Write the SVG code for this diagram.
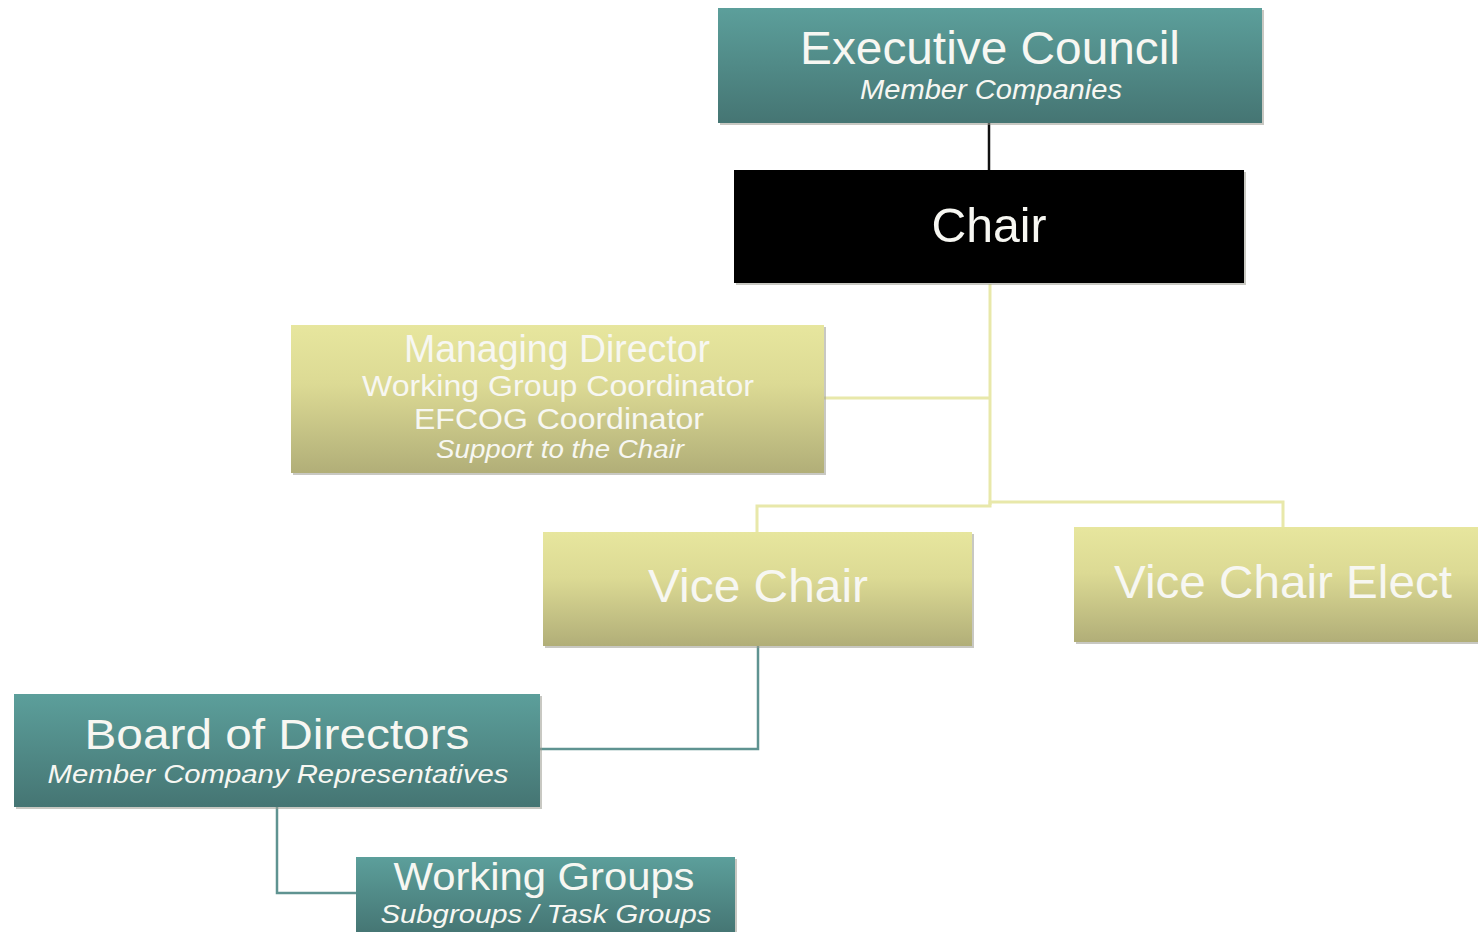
<svg xmlns="http://www.w3.org/2000/svg" width="1478" height="932" viewBox="0 0 1478 932">
<defs>
<linearGradient id="teal" x1="0" y1="0" x2="0" y2="1">
<stop offset="0" stop-color="#5c9f9b"/>
<stop offset="1" stop-color="#457573"/>
</linearGradient>
<linearGradient id="yel" x1="0" y1="0" x2="0" y2="1">
<stop offset="0" stop-color="#e7e69e"/>
<stop offset="0.4" stop-color="#dcda94"/>
<stop offset="1" stop-color="#b1ae78"/>
</linearGradient>
<style>
text{font-family:"Liberation Sans",Arial,sans-serif;fill:#f7f7f2;text-anchor:middle}
.it{font-style:italic}
.shadow{fill:#9a9a90;opacity:0.55}
.yc{stroke:#e8e8aa;stroke-width:3;fill:none}
.tc{stroke:#5f9391;stroke-width:2.5;fill:none}
</style>
</defs>
<g id="connectors">
<line x1="989" y1="123" x2="989" y2="170" stroke="#111" stroke-width="2.5"/>
<polyline class="yc" points="990,284 990,505"/>
<polyline class="yc" points="824,398 990,398"/>
<polyline class="yc" points="757,533 757,506 990,506 990,502 1283,502 1283,528"/>
<polyline class="tc" points="758,646 758,749 540,749"/>
<polyline class="tc" points="277,807 277,893 356,893"/>
</g>
<g id="executive-council">
<rect class="shadow" x="720" y="10" width="544" height="115"/>
<rect x="718" y="8" width="544" height="115" fill="url(#teal)"/>
<text x="990" y="64" font-size="47" textLength="380" lengthAdjust="spacingAndGlyphs">Executive Council</text>
<text class="it" x="991" y="99" font-size="27" textLength="262" lengthAdjust="spacingAndGlyphs">Member Companies</text>
</g>
<g id="chair">
<rect class="shadow" x="736" y="172" width="510" height="113"/>
<rect x="734" y="170" width="510" height="113" fill="#000"/>
<text x="989" y="242" font-size="48" textLength="115" lengthAdjust="spacingAndGlyphs">Chair</text>
</g>
<g id="managing-director">
<rect class="shadow" x="293" y="327" width="533" height="148"/>
<rect x="291" y="325" width="533" height="148" fill="url(#yel)"/>
<text x="557" y="362" font-size="38" textLength="306" lengthAdjust="spacingAndGlyphs">Managing Director</text>
<text x="558" y="396" font-size="29" textLength="392" lengthAdjust="spacingAndGlyphs">Working Group Coordinator</text>
<text x="559" y="429" font-size="29" textLength="290" lengthAdjust="spacingAndGlyphs">EFCOG Coordinator</text>
<text class="it" x="560" y="458" font-size="26" textLength="248" lengthAdjust="spacingAndGlyphs">Support to the Chair</text>
</g>
<g id="vice-chair">
<rect class="shadow" x="545" y="534" width="429" height="114"/>
<rect x="543" y="532" width="429" height="114" fill="url(#yel)"/>
<text x="758" y="602" font-size="46" textLength="220" lengthAdjust="spacingAndGlyphs">Vice Chair</text>
</g>
<g id="vice-chair-elect">
<rect class="shadow" x="1076" y="529" width="404" height="115"/>
<rect x="1074" y="527" width="406" height="115" fill="url(#yel)"/>
<text x="1283" y="598" font-size="46" textLength="338" lengthAdjust="spacingAndGlyphs">Vice Chair Elect</text>
</g>
<g id="board-of-directors">
<rect class="shadow" x="16" y="696" width="526" height="113"/>
<rect x="14" y="694" width="526" height="113" fill="url(#teal)"/>
<text x="277" y="749" font-size="43" textLength="385" lengthAdjust="spacingAndGlyphs">Board of Directors</text>
<text class="it" x="278" y="783" font-size="26" textLength="461" lengthAdjust="spacingAndGlyphs">Member Company Representatives</text>
</g>
<g id="working-groups">
<rect class="shadow" x="358" y="859" width="379" height="75"/>
<rect x="356" y="857" width="379" height="77" fill="url(#teal)"/>
<text x="544" y="890" font-size="39" textLength="301" lengthAdjust="spacingAndGlyphs">Working Groups</text>
<text class="it" x="546" y="923" font-size="26" textLength="331" lengthAdjust="spacingAndGlyphs">Subgroups / Task Groups</text>
</g>
</svg>
